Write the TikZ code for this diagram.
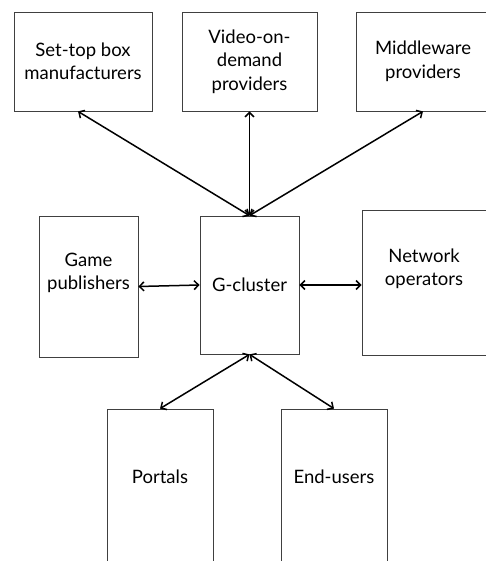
\documentclass[tikz,border=0pt]{standalone}
\usepackage{fontspec}
\setmainfont{Lato}
\usepackage{tikz}
\usetikzlibrary{positioning}
\usetikzlibrary{arrows.meta}
\begin{document}
\begin{tikzpicture}[x=1pt,y=-1pt,
  box/.style={draw=black!75,line width=0.8pt,rectangle,inner sep=0pt},
  txt/.style={align=center,font=\fontsize{18.5}{23.5}\selectfont,inner sep=0pt},
  link/.style={{Straight Barb[length=4.5pt,width=9pt]}-{Straight Barb[length=4.5pt,width=9pt]},line width=1.5pt}]
\clip (0,0) rectangle (486,561);
\node [box,minimum width=138,minimum height=99] (stb) at (83,61.5) {};
\node [box,minimum width=135,minimum height=99] (vod) at (249.5,61.5) {};
\node [box,minimum width=134,minimum height=99] (mw) at (423,61.5) {};
\node [box,minimum width=99,minimum height=141] (gp) at (88.5,286.5) {};
\node [box,minimum width=99,minimum height=138] (gc) at (249.5,285) {};
\node [box,minimum width=124,minimum height=145] (no) at (424,282.5) {};
\node [box,minimum width=106,minimum height=230] (po) at (160,524) {};
\node [box,minimum width=106,minimum height=230] (eu) at (334,524) {};
\node [txt] (stbt) at (stb.center) {Set-top box\\manufacturers};
\node [txt] (vodt) at (vod.center) {Video-on-\\demand\\providers};
\node [txt] (mwt) at (mw.center) {Middleware\\providers};
\node [txt] (gpt) at (88.5,273) {Game\\publishers};
\node [txt] (gct) at (gc.center) {G-cluster};
\node [txt] (not) at (424,269) {Network\\operators};
\node [txt] (pot) at (160,477) {Portals};
\node [txt] (eut) at (334,477) {End-users};
\draw [link] (gc.north) -- (stb.south -| 78,0);
\draw [link] (gc.north) -- (vod.south);
\draw [link] (gc.north) -- (mw.south);
\draw [link] (gp.east) -- (gc.west);
\draw [link] (gc.east) -- (no.west |- gc.east);
\draw [link] (gc.south) -- (po.north);
\draw [link] (gc.south) -- (eu.north);
\end{tikzpicture}
\end{document}
